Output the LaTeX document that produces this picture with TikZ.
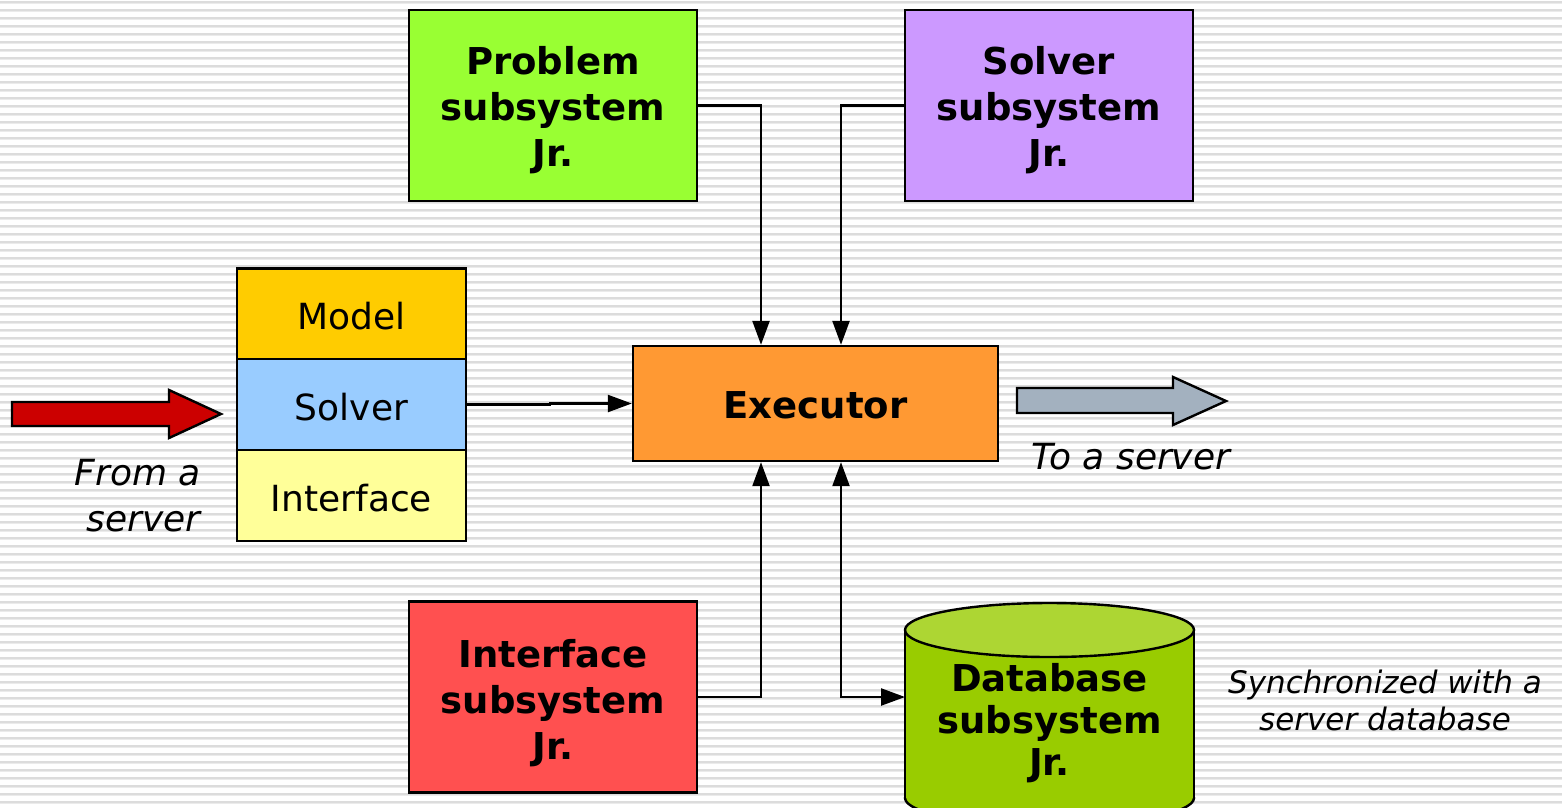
\documentclass[tikz,border=0pt]{standalone}
\usepackage{fontspec}
\setmainfont{DejaVu Sans}
\usetikzlibrary{arrows.meta}

\definecolor{stripeDark}{HTML}{DCDCDC}
\definecolor{stripeLight}{HTML}{EBEBEB}
\definecolor{problemGreen}{HTML}{99FF33}
\definecolor{solverViolet}{HTML}{CC99FF}
\definecolor{execOrange}{HTML}{FF9933}
\definecolor{modelGold}{HTML}{FFCC00}
\definecolor{solverBlue}{HTML}{99CCFF}
\definecolor{ifaceYellow}{HTML}{FFFF99}
\definecolor{ifaceRed}{HTML}{FF5050}
\definecolor{dbBody}{HTML}{99CC00}
\definecolor{dbTop}{HTML}{ADD633}
\definecolor{inRed}{HTML}{CC0000}
\definecolor{outGrey}{HTML}{A3B1BF}

\newcommand{\boldlabel}{\fontsize{37}{46}\selectfont\bfseries}
\newcommand{\plainlabel}{\fontsize{36}{46}\selectfont}
\newcommand{\notelabel}{\fontsize{36}{46}\selectfont\itshape}
\newcommand{\smallnote}{\fontsize{31}{37}\selectfont\itshape}

\begin{document}
\begin{tikzpicture}[x=1pt,y=-1pt,
  subsys/.style={draw, line width=2.4pt, minimum width=288pt, minimum height=191pt,
    inner sep=0pt},
  boxtext/.style={align=center, inner sep=0pt, font=\boldlabel},
  cell/.style={draw, line width=2.4pt, minimum width=229pt, minimum height=91pt,
    inner sep=0pt, font=\plainlabel},
  tip/.style={Triangle[length=24pt,width=17pt]},
  conn/.style={line width=2.4pt, -{Triangle[length=24pt,width=17pt]}},
  fatarrow/.style={draw, line width=2.4pt, line join=miter}
]
\useasboundingbox (0,0) rectangle (1562,807);
\begin{scope}
\clip (0,0) rectangle (1562,807);

% striped background
\fill[white] (0,0) rectangle (1562,807);
\foreach \y in {0,8,...,808} {
  \fill[stripeDark] (0,\y+1) rectangle (1562,\y+2.6);
  \fill[stripeLight] (0,\y+2.6) rectangle (1562,\y+4.2);
}

% subsystem boxes
\node[subsys, fill=problemGreen,
  label={[boxtext, yshift=-5pt]center:{Problem\\subsystem\\Jr.}}] (prob) at (553,105.5) {};
\node[subsys, fill=solverViolet,
  label={[boxtext, yshift=-5pt]center:{Solver\\subsystem\\Jr.}}] (solv) at (1049,105.5) {};
\node[subsys, fill=ifaceRed,
  label={[boxtext, yshift=-6pt]center:{Interface\\subsystem\\Jr.}}] (intf) at (553,697) {};

% executor
\node[draw, line width=2.4pt, fill=execOrange, minimum width=365pt, minimum height=115pt,
  inner sep=0pt, label={[boxtext, yshift=-2pt]center:Executor}] (exec) at (815.5,403.5) {};

% model / solver / interface stack
\node[cell, fill=modelGold, label={[font=\plainlabel, inner sep=0pt, yshift=-2.5pt]center:Model}]
  (model) at (351.5,314) {};
\node[cell, fill=solverBlue, label={[font=\plainlabel, inner sep=0pt, yshift=-2.5pt]center:Solver}]
  (solver) at (351.5,404.5) {};
\node[cell, fill=ifaceYellow, label={[font=\plainlabel, inner sep=0pt, yshift=-2.5pt]center:Interface}]
  (iface) at (351.5,495.5) {};

% database cylinder
\fill[dbBody, draw=black, line width=2.4pt] (1049.5,798) ellipse [x radius=144.5, y radius=27];
\fill[dbBody] (905,630) rectangle (1194,798);
\draw[line width=2.4pt] (905,630) -- (905,798) (1194,630) -- (1194,798);
\filldraw[fill=dbTop, draw=black, line width=2.4pt] (1049.5,630) ellipse [x radius=144.5, y radius=27];
\node[align=center, inner sep=0pt, font=\fontsize{37}{42}\selectfont\bfseries] (db) at (1049.5,723) {Database\\subsystem\\Jr.};
\coordinate (dbin) at (905,697);

% connectors into the executor
\draw[conn] (prob.east) -| ([xshift=-54.5pt]exec.north);
\draw[conn] (solv.west) -| ([xshift=25.5pt]exec.north);
\draw[conn] (intf.east) -| ([xshift=-54.5pt]exec.south);
\draw[line width=2.4pt, {Triangle[length=24pt,width=17pt]}-{Triangle[length=24pt,width=17pt]}]
  ([xshift=25.5pt]exec.south) |- (dbin);
\draw[conn] (solver.east) -- ++(83,0) |- (exec.west);

% incoming and outgoing block arrows
\filldraw[fatarrow, fill=inRed] (12,402) -- (169,402) -- (169,390) -- (221,414)
  -- (169,438) -- (169,426) -- (12,426) -- cycle;
\filldraw[fatarrow, fill=outGrey] (1017,388) -- (1173,388) -- (1173,377) -- (1226,401)
  -- (1173,425) -- (1173,413) -- (1017,413) -- cycle;

% captions
\node[anchor=east, align=right, inner sep=0pt, font=\notelabel] (fromlbl) at (201,496) {From a\\server};
\node[inner sep=0pt, font=\notelabel] (tolbl) at (1131,457) {To a server};
\node[align=center, inner sep=0pt, font=\smallnote] (synclbl) at (1385,700) {Synchronized with a\\server database};
\end{scope}
\end{tikzpicture}
\end{document}
